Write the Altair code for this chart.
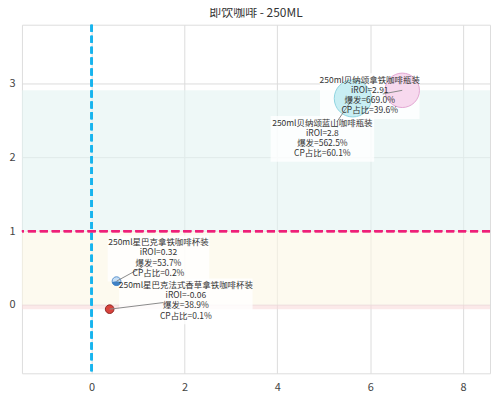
import altair as alt
import pandas as pd

FONT = "Noto Sans CJK SC"

# ---- data ----
products = ["250ml贝纳颂拿铁咖啡瓶装", "250ml贝纳颂蓝山咖啡瓶装",
            "250ml星巴克拿铁咖啡杯装", "250ml星巴克法式香草拿铁咖啡杯装"]
iroi = [2.91, 2.8, 0.32, -0.06]
burst = [669.0, 562.5, 53.7, 38.9]   # 爆发 %
cp = [39.6, 60.1, 0.2, 0.1]          # CP占比 %

x_ticks = [0, 2, 4, 6, 8]
y_ticks = [0, 1, 2, 3]
band_lo = [1, 0, -0.06]
band_hi = [2.91, 1, 0]

# ---- layout / style ----
XDOM = [-1.5, 8.58]
YDOM = [-0.93, 3.8]
W, H = 470, 350
pxx = W / (XDOM[1] - XDOM[0])
pxy = H / (YDOM[1] - YDOM[0])

fills = ["#f7d9ee", "#c8eef3", "#c6def5", "#d9423c"]
strokes = ["#e2a6d2", "#8fd4e0", "#5c93cc", "#8f2a25"]
band_colors = ["#e2f4f1", "#fbf6e4", "#f8dada"]

lab_x = [5.99, 4.97, 1.44, 2.03]
lab_y = [3.054, 2.473, 0.851, 0.270]   # first text line
lead_x = [6.27, 5.28, 1.09, 1.55]
lead_y = [2.86, 2.48, 0.51, 0.03]
box_w = [100, 104, 102, 134]
box_h = 46
box_dy = 16.5  # px from first line down to box centre

df = pd.DataFrame({
    "product": products,
    "iroi": iroi,
    "burst": burst,
    "x": [b / 100 for b in burst],
    "cp": cp,
    "fill": fills,
    "stroke": strokes,
    "lx": lab_x,
    "ly": lab_y,
    "ex": lead_x,
    "ey": lead_y,
    "label": [f"{p}\niROI={r}\n爆发={b:.1f}%\nCP占比={c}%" for p, r, b, c in zip(products, iroi, burst, cp)],
    "bx1": [lx - w / 2 / pxx for lx, w in zip(lab_x, box_w)],
    "bx2": [lx + w / 2 / pxx for lx, w in zip(lab_x, box_w)],
    "by1": [ly - (box_dy + box_h / 2) / pxy for ly in lab_y],
    "by2": [ly - (box_dy - box_h / 2) / pxy for ly in lab_y],
})

bands = pd.DataFrame({"lo": band_lo, "hi": band_hi, "color": band_colors})

xs = alt.Scale(domain=XDOM, nice=False, zero=False)
ys = alt.Scale(domain=YDOM, nice=False, zero=False)

xax = alt.Axis(values=x_ticks, format="d", title=None, grid=True, gridColor="#dcdcdc",
               domain=False, ticks=False, tickSize=0, labelPadding=8, labelColor="#444",
               labelFontSize=11, labelFont=FONT)
yax = alt.Axis(values=y_ticks, format="d", title=None, grid=True, gridColor="#dcdcdc",
               domain=False, ticks=False, tickSize=0, labelPadding=7, labelColor="#444",
               labelFontSize=11, labelFont=FONT)

base = alt.Chart(df)

band_layer = alt.Chart(bands).mark_rect(opacity=0.6).encode(
    x=alt.datum(XDOM[0], scale=xs, axis=xax),
    x2=alt.datum(XDOM[1]),
    y=alt.Y("lo:Q", scale=ys, axis=yax),
    y2="hi:Q",
    color=alt.Color("color:N", scale=None),
)

vline = alt.Chart(df).mark_rule(color="#17b4ee", strokeWidth=2.2, strokeDash=[7, 4]).encode(
    x=alt.datum(0, scale=xs)
)
hline = alt.Chart(df).mark_rule(color="#ee1f78", strokeWidth=2.2, strokeDash=[8, 4]).encode(
    y=alt.datum(1, scale=ys)
)

boxes = base.mark_rect(fill="white", opacity=0.8).encode(
    x=alt.X("bx1:Q", scale=xs), x2="bx2:Q",
    y=alt.Y("by1:Q", scale=ys), y2="by2:Q",
)

points = base.mark_circle(opacity=1, strokeWidth=1).encode(
    x=alt.X("x:Q", scale=xs),
    y=alt.Y("iroi:Q", scale=ys),
    size=alt.Size("cp:Q", scale=alt.Scale(domain=[0.1, 39.6, 60.1], range=[75, 1195, 1385]),
                  legend=None),
    fill=alt.Fill("fill:N", scale=None),
    stroke=alt.Stroke("stroke:N", scale=None),
)

# darker lower half of the small blue bubble
shade = base.transform_filter(alt.datum.product == products[2]).mark_arc(
    theta=1.75, theta2=4.55, outerRadius=4.6, fill="#3f80c4"
).encode(
    x=alt.X("x:Q", scale=xs),
    y=alt.Y("iroi:Q", scale=ys),
)

leaders = base.mark_rule(color="#8a8a8a", strokeWidth=1).encode(
    x=alt.X("x:Q", scale=xs), x2="ex:Q",
    y=alt.Y("iroi:Q", scale=ys), y2="ey:Q",
)

labels = base.mark_text(font=FONT, fontSize=8.5, lineHeight=10.3, lineBreak="\n",
                        align="center", baseline="middle", color="#333").encode(
    x=alt.X("lx:Q", scale=xs),
    y=alt.Y("ly:Q", scale=ys),
    text="label:N",
)

chart = alt.layer(band_layer, vline, hline, boxes, points, shade, leaders, labels).properties(
    width=W, height=H,
    title=alt.TitleParams("即饮咖啡 - 250ML", font=FONT, fontSize=12, fontWeight="normal",
                          color="#333", offset=4),
    autosize=alt.AutoSizeParams(type="none"),
    padding={"left": 14, "top": 16, "right": 2, "bottom": 20},
).configure_view(stroke="#cfcfcf").configure(background="white")

chart.save("out.html", embed_options={"renderer": "svg", "actions": False})
